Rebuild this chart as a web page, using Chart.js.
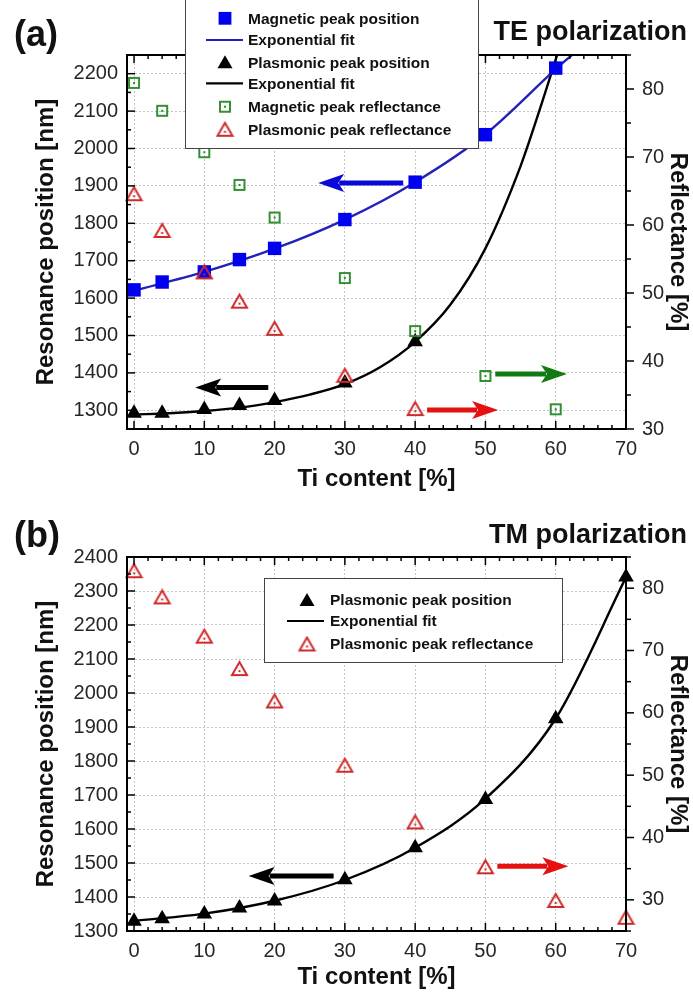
<!DOCTYPE html>
<html>
<head>
<meta charset="utf-8">
<script src="https://cdn.jsdelivr.net/npm/chart.js@4.4.0/dist/chart.umd.min.js"></script>
<style>
  body { margin: 0; background: #fff; width: 693px; height: 995px; overflow: hidden; position: relative; }
  canvas { position: absolute; left: 0; }
  #chartA { top: 0; }
  #chartB { top: 497px; }
</style>
</head>
<body>
<canvas id="chartA" width="693" height="497"></canvas>
<canvas id="chartB" width="693" height="498"></canvas>
<script>
// ---- data ----
// (a) TE polarization
const teMagX = [0, 4, 10, 15, 20, 30, 40, 50, 60];
const teMagPos = [1622, 1643, 1670, 1703, 1733, 1810, 1910, 2037, 2215];
const teMagFitX = [0, 10, 20, 30, 40, 50, 60, 62.3];
const teMagFitY = [1620, 1670, 1732, 1810, 1910, 2038, 2212, 2250];
const tePlasX = [0, 4, 10, 15, 20, 30, 40];
const tePlasPos = [1292, 1292, 1302, 1313, 1326, 1373, 1483];
const tePlasFitX = [0, 5, 10, 15, 20, 25, 30, 35, 40, 45, 50, 55, 58, 60.2];
const tePlasFitY = [1289, 1292, 1298, 1307, 1322, 1342, 1370, 1415, 1483, 1582, 1733, 1953, 2120, 2250];
const teMagRefl = [80.9, 76.8, 70.7, 65.9, 61.1, 52.2, 44.4, 37.8, 32.9];
const tePlasRefl = [64.6, 59.2, 53.1, 48.8, 44.8, 37.9, 33.0];

// (b) TM polarization
const tmX = [0, 4, 10, 15, 20, 30, 40, 50, 60, 70];
const tmPlasPos = [1329, 1336, 1350, 1368, 1388, 1451, 1545, 1687, 1924, 2341];
const tmPlasFitX = [0, 10, 20, 30, 40, 50, 60, 70];
const tmPlasFitY = [1330, 1351, 1389, 1450, 1545, 1689, 1925, 2340];
const tmPlasRefl = [82.8, 78.6, 72.3, 67.1, 61.9, 51.6, 42.5, 35.3, 29.9, 27.2];

// tick labels
const xTicks = [0, 10, 20, 30, 40, 50, 60, 70];
const teLeftTicks = [1300, 1400, 1500, 1600, 1700, 1800, 1900, 2000, 2100, 2200];
const tmLeftTicks = [1300, 1400, 1500, 1600, 1700, 1800, 1900, 2000, 2100, 2200, 2300, 2400];
const rightTicks = [30, 40, 50, 60, 70, 80];

// arrows: [from x, to x, y value, axis, colour]
const teArrows = [
  [38.3, 26.2, 1908, 'y', '#0a0ad8'],
  [19.1, 8.7, 1361, 'y', '#000000'],
  [51.4, 61.6, 38.1, 'y2', '#137a13'],
  [41.7, 51.8, 32.8, 'y2', '#e51010']
];
const tmArrows = [
  [28.4, 16.3, 1462, 'y', '#000000'],
  [51.7, 61.8, 35.4, 'y2', '#e51010']
];

const FONT = "'Liberation Sans', Arial, Helvetica, sans-serif";
Chart.defaults.font.family = FONT;

function pts(xs, ys) {
  return xs.map((x, i) => ({ x: x, y: ys[i] }));
}

// open markers with a dot in the middle (Origin style)
function openSquare(color) {
  const c = document.createElement('canvas');
  c.width = 14; c.height = 14;
  const g = c.getContext('2d');
  g.strokeStyle = color; g.lineWidth = 1.9;
  g.strokeRect(2, 2, 10, 10);
  g.fillStyle = color;
  g.fillRect(6, 6, 2, 2);
  return c;
}
function openTriangle(color) {
  const c = document.createElement('canvas');
  c.width = 19; c.height = 17;
  const g = c.getContext('2d');
  g.strokeStyle = color; g.lineWidth = 2; g.lineJoin = 'miter';
  g.beginPath();
  g.moveTo(9.5, 2); g.lineTo(17, 15); g.lineTo(2, 15); g.closePath();
  g.stroke();
  g.fillStyle = color;
  g.fillRect(8.5, 10, 2, 2);
  return c;
}
const greenSq = openSquare('#2b8a2b');
const redTri = openTriangle('#d02a2a');

function markerSet(label, data, style, color, radius, order) {
  return {
    label: label, data: data, showLine: false, order: order, clip: false,
    pointStyle: style, pointRadius: radius, pointBackgroundColor: color,
    pointBorderColor: color, pointBorderWidth: 0, backgroundColor: color, borderColor: color
  };
}
function fitSet(label, data, color) {
  return {
    label: label, data: data, showLine: true, order: 5,
    borderColor: color, borderWidth: 2.4, pointRadius: 0,
    tension: 0.4, cubicInterpolationMode: 'monotone'
  };
}

function drawArrow(ctx, x0, x1, y, color) {
  const dir = x1 > x0 ? 1 : -1;
  const head = 24, half = 9;
  const base = x1 - dir * head;
  ctx.strokeStyle = color; ctx.fillStyle = color;
  ctx.lineWidth = 5; ctx.lineCap = 'butt';
  ctx.beginPath(); ctx.moveTo(x0, y); ctx.lineTo(base + dir * 3, y); ctx.stroke();
  ctx.beginPath();
  ctx.moveTo(x1, y);
  ctx.lineTo(base - dir * 2, y - half);
  ctx.lineTo(base + dir * 4, y);
  ctx.lineTo(base - dir * 2, y + half);
  ctx.closePath(); ctx.fill();
}

function drawLegendMarker(ctx, ds, x, y, lineX) {
  if (ds.showLine) {
    ctx.strokeStyle = ds.borderColor; ctx.lineWidth = 2.2;
    ctx.beginPath(); ctx.moveTo(lineX[0], y); ctx.lineTo(lineX[1], y); ctx.stroke();
  } else if (ds.pointStyle === 'rect') {
    ctx.fillStyle = ds.pointBackgroundColor;
    ctx.fillRect(x - 6.4, y - 6.4, 12.8, 12.8);
  } else if (ds.pointStyle === 'triangle') {
    ctx.fillStyle = ds.pointBackgroundColor;
    ctx.beginPath();
    ctx.moveTo(x, y - 7);
    ctx.lineTo(x + 7.5, y + 6);
    ctx.lineTo(x - 7.5, y + 6);
    ctx.closePath(); ctx.fill();
  } else {
    ctx.drawImage(ds.pointStyle, x - ds.pointStyle.width / 2, y - ds.pointStyle.height / 2);
  }
}

// frame, inward ticks, arrows, legend and panel texts
const panelPlugin = {
  id: 'panel',
  afterDraw(chart, args, opts) {
    const ctx = chart.ctx, a = chart.chartArea, s = chart.scales;
    ctx.save();
    ctx.strokeStyle = '#000'; ctx.lineWidth = 2;
    ctx.strokeRect(a.left, a.top, a.right - a.left, a.bottom - a.top);
    ctx.lineWidth = 1.5;
    const seg = (x0, y0, x1, y1) => { ctx.beginPath(); ctx.moveTo(x0, y0); ctx.lineTo(x1, y1); ctx.stroke(); };
    for (let v = 0; v <= 70; v += 2) {
      const px = s.x.getPixelForValue(v);
      const len = v % 10 === 0 ? 8 : 4;
      seg(px, a.bottom, px, a.bottom - len);
      seg(px, a.top, px, a.top + len);
    }
    for (let v = Math.ceil(s.y.min / 50) * 50; v <= s.y.max; v += 50) {
      const py = s.y.getPixelForValue(v);
      seg(a.left, py, a.left + (v % 100 === 0 ? 8 : 4), py);
    }
    for (let v = Math.ceil(s.y2.min / 5) * 5; v <= s.y2.max; v += 5) {
      const py = s.y2.getPixelForValue(v);
      seg(a.right, py, a.right + (v % 10 === 0 ? 8 : 5), py);
    }

    opts.arrows.forEach((ar) => {
      drawArrow(ctx, s.x.getPixelForValue(ar[0]), s.x.getPixelForValue(ar[1]),
        s[ar[3]].getPixelForValue(ar[2]), ar[4]);
    });

    // legend
    const lg = opts.legend;
    ctx.fillStyle = '#fff';
    ctx.fillRect(lg.box[0], lg.box[1], lg.box[2] - lg.box[0], lg.box[3] - lg.box[1]);
    ctx.strokeStyle = '#444'; ctx.lineWidth = 1;
    ctx.strokeRect(lg.box[0] + 0.5, lg.box[1] + 0.5, lg.box[2] - lg.box[0], lg.box[3] - lg.box[1]);
    ctx.font = "bold 15.5px " + FONT;
    ctx.textBaseline = 'middle'; ctx.textAlign = 'left';
    chart.data.datasets.forEach((ds, i) => {
      const y = lg.rows[i];
      drawLegendMarker(ctx, ds, lg.markerX, y, lg.lineX);
      ctx.fillStyle = '#111';
      ctx.fillText(ds.label, lg.textX, y + 1);
    });

    // panel label and polarization title
    ctx.fillStyle = '#111';
    ctx.textBaseline = 'alphabetic';
    ctx.font = "bold 36px " + FONT;
    ctx.textAlign = 'left';
    ctx.fillText(opts.label, 14, opts.labelY);
    ctx.font = "bold 27px " + FONT;
    ctx.textAlign = 'right';
    ctx.fillText(opts.title, 687, opts.titleY);
    ctx.restore();
  }
};

function fixedTicks(values) {
  return function (sc) { sc.ticks = values.map((v) => ({ value: v })); };
}

function makeScales(yMin, yMax, y2Min, y2Max, xHeight, leftTicks) {
  const tickFont = { size: 20, family: FONT };
  const titleFont = { size: 24, weight: 'bold', family: FONT, lineHeight: 1 };
  const plain = (v) => String(v);
  return {
    x: {
      type: 'linear', min: -1, max: 70,
      afterBuildTicks: fixedTicks(xTicks),
      ticks: { padding: 8, color: '#262626', font: tickFont, maxRotation: 0, callback: plain },
      grid: { color: '#c4c4c4', drawTicks: false, lineWidth: 1 },
      border: { display: false, dash: [2, 2] },
      title: { display: true, text: 'Ti content [%]', color: '#111', font: titleFont, padding: { top: 0, bottom: 6 } },
      afterFit(sc) { sc.height = xHeight; }
    },
    y: {
      position: 'left', min: yMin, max: yMax,
      afterBuildTicks: fixedTicks(leftTicks),
      ticks: { padding: 9, color: '#262626', font: tickFont, callback: plain },
      grid: { color: '#c4c4c4', drawTicks: false, lineWidth: 1 },
      border: { display: false, dash: [2, 2] },
      title: { display: true, text: 'Resonance position [nm]', color: '#111', font: titleFont, padding: { top: 34, bottom: 0 } },
      afterFit(sc) { sc.width = 127; }
    },
    y2: {
      position: 'right', min: y2Min, max: y2Max,
      afterBuildTicks: fixedTicks(rightTicks),
      ticks: { padding: 16, color: '#262626', font: tickFont, callback: plain },
      grid: { display: false, drawTicks: false },
      border: { display: false },
      title: { display: true, text: 'Reflectance [%]', color: '#111', font: titleFont, padding: { top: 3, bottom: 0 } },
      afterFit(sc) { sc.width = 67; }
    }
  };
}

function baseOptions(topPad, scales, panel) {
  return {
    responsive: false, animation: false, events: [],
    layout: { padding: { top: topPad, left: 0, right: 0, bottom: 0 } },
    plugins: { legend: { display: false }, tooltip: { enabled: false }, panel: panel },
    scales: scales
  };
}

// ---- (a) TE polarization ----
new Chart(document.getElementById('chartA'), {
  type: 'line',
  data: {
    datasets: [
      markerSet('Magnetic peak position', pts(teMagX, teMagPos), 'rect', '#0000f0', 9.5, 2),
      fitSet('Exponential fit', pts(teMagFitX, teMagFitY), '#2222b8'),
      markerSet('Plasmonic peak position', pts(tePlasX, tePlasPos), 'triangle', '#000000', 9, 3),
      fitSet('Exponential fit', pts(tePlasFitX, tePlasFitY), '#000000'),
      Object.assign(markerSet('Magnetic peak reflectance', pts(teMagX, teMagRefl), greenSq, '#2b8a2b', 6, 1), { yAxisID: 'y2' }),
      Object.assign(markerSet('Plasmonic peak reflectance', pts(tePlasX, tePlasRefl), redTri, '#d02a2a', 8, 0), { yAxisID: 'y2' })
    ]
  },
  options: baseOptions(55, makeScales(1250, 2250, 30, 85, 68, teLeftTicks), {
    label: '(a)', labelY: 46, title: 'TE polarization', titleY: 40, arrows: teArrows,
    legend: { box: [185, -2, 478, 148], rows: [18.3, 40, 62.3, 83.3, 106.7, 129.3], markerX: 225, lineX: [206, 243], textX: 248 }
  }),
  plugins: [panelPlugin]
});

// ---- (b) TM polarization ----
new Chart(document.getElementById('chartB'), {
  type: 'line',
  data: {
    datasets: [
      markerSet('Plasmonic peak position', pts(tmX, tmPlasPos), 'triangle', '#000000', 9, 2),
      fitSet('Exponential fit', pts(tmPlasFitX, tmPlasFitY), '#000000'),
      Object.assign(markerSet('Plasmonic peak reflectance', pts(tmX, tmPlasRefl), redTri, '#d02a2a', 8, 0), { yAxisID: 'y2' })
    ]
  },
  options: baseOptions(60, makeScales(1300, 2400, 25, 85, 64, tmLeftTicks), {
    label: '(b)', labelY: 50, title: 'TM polarization', titleY: 46, arrows: tmArrows,
    legend: { box: [264, 81, 562, 165], rows: [103, 124, 147], markerX: 307, lineX: [287, 324], textX: 330 }
  }),
  plugins: [panelPlugin]
});
</script>
</body>
</html>
